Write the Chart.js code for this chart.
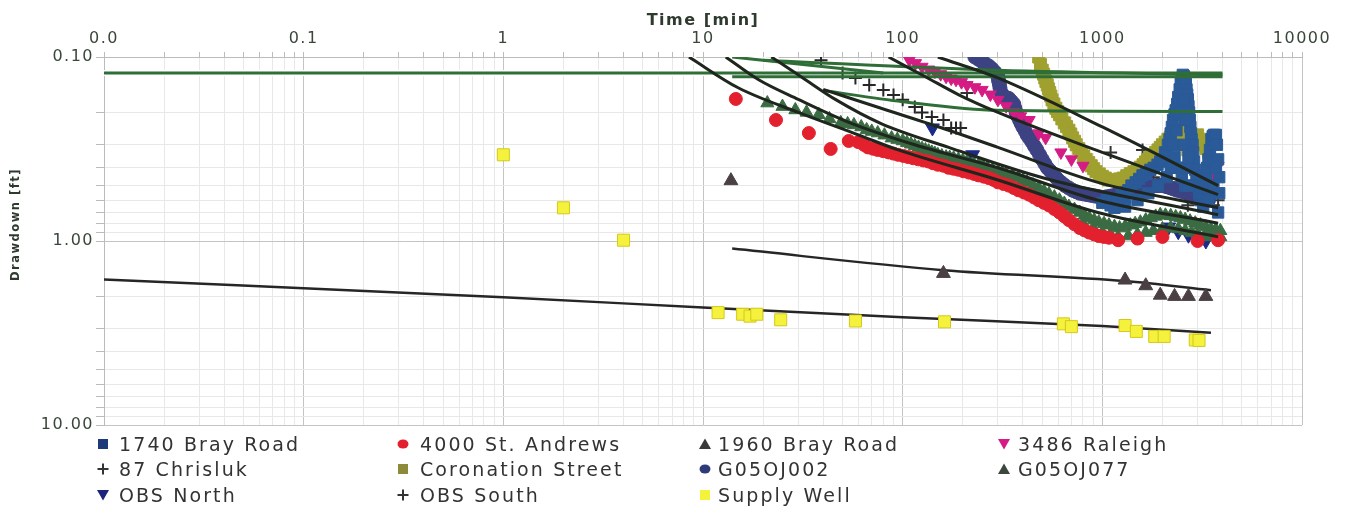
<!DOCTYPE html>
<html><head><meta charset="utf-8">
<script src="https://cdn.jsdelivr.net/npm/chart.js@4/dist/chart.umd.min.js"></script>
<style>
html,body{margin:0;padding:0;background:#fff;}
#wrap{position:relative;width:1346px;height:508px;overflow:hidden;}
#c{position:absolute;left:0;top:0;}
.lt{position:absolute;font-family:"DejaVu Sans",sans-serif;font-size:19px;letter-spacing:2.1px;color:#333;white-space:nowrap;line-height:22px;}
.lm{position:absolute;}
</style></head>
<body><div id="wrap"><canvas id="c" width="1346" height="508"></canvas><div id="legend"></div></div>
<script>
// ---- axis ticks ----
const xDecades = [0.01, 0.1, 1, 10, 100, 1000, 10000];
const xTickLabels = ['0.0', '0.1', '1', '10', '100', '1000', '10000'];
const yDecades = [0.1, 1, 10];
const yTickLabels = ['0.10', '1.00', '10.00'];

// ---- observed data [time min, drawdown ft] ----
const bray1740 = [[1000,0.62],[1050,0.6],[1100,0.64],[1150,0.66],[1200,0.6],[1250,0.56],[1300,0.58],[1350,0.53],[1400,0.5],[1470,0.48],[1530,0.46],[1590,0.44],[1660,0.43],[1740,0.41],[1810,0.4],[1890,0.385],[1950,0.37],[2000,0.36],[2060,0.33],[2130,0.3],[2170,0.28],[2200,0.26],[2230,0.24],[2260,0.22],[2300,0.205],[2330,0.195],[2370,0.18],[2400,0.165],[2440,0.15],[2470,0.137],[2500,0.13],[2530,0.125],[2560,0.127],[2590,0.13],[2620,0.14],[2640,0.15],[2660,0.16],[2680,0.17],[2700,0.185],[2720,0.2],[2740,0.22],[2760,0.24],[2780,0.26],[2800,0.28],[2830,0.3],[2850,0.33],[2880,0.37],[2920,0.41],[2960,0.45],[3000,0.5],[3050,0.55],[3100,0.6],[3150,0.56],[3200,0.52],[3250,0.48],[3300,0.44],[3350,0.4],[3400,0.36],[3460,0.32],[3520,0.28],[3570,0.27],[3620,0.265],[3700,0.265],[3750,0.3],[3800,0.36],[3850,0.45],[3850,0.55],[2250,0.3],[2300,0.35],[2350,0.25],[2400,0.4],[2450,0.2],[2500,0.45],[2550,0.17],[2550,0.3],[2600,0.5],[2600,0.22],[2650,0.4],[2700,0.35],[2700,0.5],[2200,0.4],[2100,0.45],[1900,0.5],[1700,0.55],[1500,0.6],[1300,0.65],[3200,0.65],[3400,0.6],[3600,0.5],[3700,0.4],[3800,0.7]];
const standrews4000 = [[14.6,0.169],[23.2,0.22],[33.9,0.259],[43.6,0.316],[53.7,0.286],[60,0.29],[64,0.3],[67,0.31],[71,0.315],[75,0.32],[80,0.325],[85,0.33],[90,0.335],[95,0.34],[101,0.345],[107,0.35],[113,0.355],[120,0.36],[127,0.365],[135,0.37],[142,0.378],[150,0.385],[160,0.39],[170,0.4],[180,0.405],[190,0.41],[202,0.418],[215,0.425],[228,0.432],[240,0.44],[255,0.447],[270,0.455],[285,0.465],[300,0.48],[320,0.49],[340,0.5],[360,0.515],[380,0.53],[405,0.545],[430,0.56],[455,0.58],[480,0.6],[510,0.62],[540,0.64],[575,0.67],[610,0.7],[645,0.735],[680,0.77],[725,0.81],[770,0.85],[815,0.875],[860,0.9],[910,0.92],[960,0.94],[1020,0.95],[1080,0.96],[1200,0.99],[1500,0.97],[2000,0.95],[3000,1.0],[3800,0.99]];
const bray1960 = [[13.8,0.47],[160,1.5],[1300,1.63],[1650,1.75],[1950,1.97],[2300,2.0],[2700,2.0],[3300,2.0]];
const raleigh3486 = [[108,0.104],[116,0.108],[125,0.113],[135,0.117],[145,0.12],[155,0.124],[165,0.128],[175,0.131],[185,0.133],[197,0.137],[210,0.142],[230,0.146],[250,0.151],[275,0.16],[300,0.171],[330,0.185],[360,0.2],[390,0.21],[430,0.22],[480,0.26],[520,0.275],[620,0.33],[700,0.36],[800,0.39],[3600,0.42],[3700,0.466],[3800,0.39]];
const chrisluk87 = [[39,0.104],[50,0.122],[58,0.13],[68,0.142],[80,0.151],[90,0.161],[100,0.171],[115,0.187],[125,0.2],[140,0.212],[160,0.22],[175,0.243],[185,0.243],[195,0.243]];
const coronation = [[480,0.1],[490,0.11],[500,0.118],[508,0.124],[515,0.13],[522,0.136],[530,0.142],[537,0.149],[545,0.156],[552,0.163],[560,0.171],[572,0.18],[585,0.19],[597,0.198],[610,0.206],[627,0.217],[645,0.228],[662,0.239],[680,0.25],[695,0.262],[710,0.275],[725,0.287],[740,0.3],[762,0.315],[785,0.33],[807,0.345],[830,0.36],[855,0.375],[880,0.39],[905,0.405],[930,0.42],[965,0.432],[1000,0.445],[1035,0.455],[1070,0.466],[1120,0.468],[1170,0.465],[1220,0.46],[1270,0.455],[1325,0.442],[1380,0.43],[1440,0.42],[1500,0.41],[1550,0.397],[1600,0.385],[1645,0.372],[1690,0.36],[1745,0.35],[1800,0.34],[1850,0.33],[1900,0.32],[1950,0.31],[2000,0.3],[2065,0.29],[2130,0.28],[2190,0.272],[2250,0.265],[2320,0.257],[2400,0.25],[2470,0.265],[2550,0.28],[2620,0.3],[2680,0.32],[2760,0.305],[2850,0.29],[2920,0.277],[3000,0.265],[3100,0.28],[3200,0.3],[3300,0.315],[3400,0.33]];
const g05oj002 = [[230,0.1],[240,0.103],[250,0.106],[260,0.109],[270,0.112],[280,0.116],[290,0.121],[300,0.128],[302,0.134],[305,0.14],[307,0.147],[310,0.155],[315,0.16],[320,0.165],[330,0.166],[340,0.168],[350,0.174],[360,0.18],[365,0.19],[370,0.2],[377,0.21],[385,0.22],[392,0.23],[400,0.24],[410,0.252],[420,0.265],[432,0.277],[445,0.29],[457,0.305],[470,0.32],[485,0.34],[500,0.36],[515,0.38],[530,0.4],[547,0.415],[565,0.43],[582,0.448],[600,0.466],[625,0.483],[650,0.5],[680,0.515],[710,0.53],[740,0.54],[770,0.55],[805,0.555],[840,0.56],[880,0.565],[920,0.57],[960,0.575],[1000,0.58],[1050,0.575],[1100,0.57],[1150,0.565],[1200,0.56],[1250,0.552],[1300,0.545],[1360,0.537],[1420,0.53],[1485,0.525],[1550,0.52],[1620,0.515],[1690,0.51],[1770,0.505],[1850,0.5],[1925,0.5],[2000,0.5],[2100,0.507],[2200,0.515],[2280,0.522],[2370,0.53],[2480,0.537],[2600,0.545],[2710,0.552],[2830,0.56],[2960,0.57],[3100,0.58],[3250,0.59],[3400,0.6]];
const g05oj077 = [[21,0.178],[25,0.186],[29,0.194],[33,0.2],[38,0.206],[43,0.217],[49,0.228],[53,0.231],[57,0.234],[62,0.24],[66,0.249],[70,0.254],[75,0.259],[81,0.266],[88,0.276],[94,0.281],[100,0.286],[105,0.292],[110,0.298],[115,0.304],[120,0.31],[125,0.315],[130,0.32],[135,0.325],[140,0.33],[145,0.335],[150,0.34],[157,0.345],[165,0.35],[172,0.352],[180,0.355],[190,0.36],[200,0.365],[210,0.37],[225,0.377],[240,0.385],[252,0.392],[265,0.4],[282,0.41],[300,0.42],[315,0.427],[330,0.435],[355,0.445],[380,0.455],[400,0.467],[420,0.48],[450,0.497],[480,0.515],[510,0.535],[540,0.555],[575,0.577],[610,0.6],[645,0.625],[680,0.65],[725,0.675],[770,0.7],[815,0.725],[860,0.75],[910,0.77],[960,0.79],[1020,0.805],[1080,0.82],[1150,0.835],[1220,0.85],[1300,0.835],[1380,0.82],[1460,0.805],[1550,0.79],[1650,0.77],[1750,0.75],[1850,0.735],[1950,0.72],[2070,0.725],[2200,0.73],[2330,0.74],[2460,0.75],[2600,0.765],[2750,0.78],[2920,0.8],[3100,0.82],[3300,0.84],[3500,0.86],[3700,0.87],[3900,0.88],[800,0.8],[900,0.85],[1000,0.9],[1100,0.93],[1200,0.95],[1350,0.94],[1500,0.92],[1650,0.9],[1800,0.88],[2000,0.86],[2200,0.85],[2400,0.86],[2600,0.88],[2800,0.9],[3000,0.92],[3250,0.94],[3500,0.95],[3700,0.95],[3900,0.95]];
const obsNorth = [[141,0.243],[224,0.34],[2150,0.84],[2400,0.89],[2700,0.93],[3300,1.0]];
const obsSouth = [[210,0.157],[1100,0.33],[1590,0.32],[1250,0.5],[1400,0.48],[1600,0.46],[1800,0.45],[2000,0.46],[2200,0.48],[2500,0.5],[2680,0.64],[2800,0.52],[3100,0.55],[3500,0.57],[3600,0.64],[3800,0.6]];
const supplyWell = [[1,0.34],[2,0.66],[4,0.99],[11.9,2.45],[15.8,2.5],[17.2,2.56],[18.6,2.5],[24.5,2.68],[58,2.72],[162,2.75],[638,2.82],[700,2.92],[1300,2.88],[1480,3.1],[1830,3.3],[2040,3.3],[2920,3.45],[3050,3.47]];

// ---- fitted curves [time min, drawdown ft] ----
const fitSupply = [[0.01,1.62],[1,2.02],[10,2.3],[100,2.6],[1000,2.9],[3500,3.15]];
const fit1960 = [[14,1.1],[160,1.44],[1300,1.65],[3500,1.85]];
const fitB1 = [[8.5,0.1],[15,0.147],[30,0.2],[60,0.265],[95,0.32],[300,0.466],[950,0.7],[3800,0.95]];
const fitB2 = [[13,0.1],[19,0.133],[30,0.17],[53,0.225],[115,0.3],[300,0.4],[950,0.6],[3800,0.8]];
const fitB3 = [[22,0.1],[31,0.128],[46,0.17],[78,0.23],[170,0.31],[530,0.46],[3800,0.72]];
const fitB4 = [[40,0.15],[78,0.19],[170,0.25],[300,0.31],[950,0.48],[3800,0.66]];
const fitB5 = [[85,0.1],[130,0.128],[190,0.16],[300,0.2],[1000,0.33],[3800,0.56]];
const fitB6 = [[150,0.1],[300,0.13],[1000,0.24],[3800,0.5]];
const fitG1 = [[0.01,0.122],[4000,0.122]];
const fitG2 = [[14,0.128],[4000,0.128]];
const fitG3 = [[20,0.104],[300,0.118],[4000,0.125]];
const fitG4 = [[40,0.152],[100,0.175],[300,0.195],[4000,0.198]];
const fitG5 = [[14,0.1],[80,0.122]];

// ---- build ----
const pts = a => a.map(p => ({x: p[0], y: p[1]}));
const series = [
  {label:'1740 Bray Road', data:bray1740, style:'rect', color:'#2a5a98', r:8},
  {label:'4000 St. Andrews', data:standrews4000, style:'circle', color:'#e3202d', r:6.5},
  {label:'1960 Bray Road', data:bray1960, style:'triangle', color:'#4a4043', r:8},
  {label:'3486 Raleigh', data:raleigh3486, style:'triangle', rot:180, color:'#d41c84', r:7},
  {label:'87 Chrisluk', data:chrisluk87, style:'cross', color:'#262626', r:6.5},
  {label:'Coronation Street', data:coronation, style:'rect', color:'#a0a030', r:8.5},
  {label:'G05OJ002', data:g05oj002, style:'circle', color:'#3d4283', r:7},
  {label:'G05OJ077', data:g05oj077, style:'triangle', color:'#3b6b43', r:7.5},
  {label:'OBS North', data:obsNorth, style:'triangle', rot:180, color:'#1c2a8a', r:8},
  {label:'OBS South', data:obsSouth, style:'cross', color:'#333333', r:6.5},
  {label:'Supply Well', data:supplyWell, style:'rect', color:'#f4f23c', border:'#d6c81a', r:8.5}
];
const legendIcon = {
  '1740 Bray Road':'#1f3a7a','4000 St. Andrews':'#e3202d','1960 Bray Road':'#3a3a3a','3486 Raleigh':'#d41c84',
  '87 Chrisluk':'#333','Coronation Street':'#8d8a3a','G05OJ002':'#2f3a78','G05OJ077':'#3d463d',
  'OBS North':'#1c237a','OBS South':'#333','Supply Well':'#f4f23c'
};

const datasets = [];
series.forEach(s => datasets.push({
  label: s.label, data: pts(s.data), showLine: false,
  pointStyle: s.style, pointRotation: s.rot || 0, pointRadius: s.r, pointHoverRadius: s.r,
  backgroundColor: s.color, borderColor: s.border || s.color, pointBorderWidth: s.style === 'cross' ? 2 : 1,
  order: 10
}));
function lineDs(arr, color, width, order) {
  return {label: '', data: pts(arr), showLine: true, borderColor: color, backgroundColor: color,
    borderWidth: width, pointRadius: 0, pointHoverRadius: 0, cubicInterpolationMode: 'monotone',
    fill: false, order: order};
}
datasets.push(lineDs(fitSupply, '#262626', 2.5, 20));
datasets.push(lineDs(fit1960, '#262626', 2.5, 20));
const blackFits = [fitB1, fitB2, fitB3, fitB4, fitB5, fitB6];
const greenFits = [fitG1, fitG2, fitG3, fitG4, fitG5];
greenFits.forEach(f => { datasets.push(lineDs(f, '#ffffff', 6, 13)); datasets.push(lineDs(f, '#2f6e37', 3, 3)); });
blackFits.forEach(f => { datasets.push(lineDs(f, '#ffffff', 7, 12)); datasets.push(lineDs(f, '#1e261e', 3, 1)); });

function tickList(decades) {
  const out = [];
  decades.forEach((d, i) => {
    if (i === decades.length - 1) { out.push(d); return; }
    for (let k = 1; k < 10; k++) out.push(+(d * k).toPrecision(6));
  });
  return out;
}
const idxOf = (decades, v) => decades.findIndex(d => Math.abs(v / d - 1) < 1e-6);
const gridColor = decades => ctx => (ctx.tick && idxOf(decades, ctx.tick.value) >= 0) ? '#c4c4c4' : '#e8e8e8';

const spacing = {id: 'spacing', beforeDraw(chart) { chart.ctx.letterSpacing = '1.5px'; }};

new Chart(document.getElementById('c'), {
  type: 'scatter',
  data: {datasets},
  plugins: [spacing],
  options: {
    responsive: false, animation: false, devicePixelRatio: 1,
    layout: {padding: {left: 0, top: 0, right: 44, bottom: 83}},
    plugins: {legend: {display: false}, tooltip: {enabled: false}},
    scales: {
      x: {
        type: 'logarithmic', position: 'top', min: 0.01, max: 10000,
        afterBuildTicks: s => { s.ticks = tickList(xDecades).map(v => ({value: v})); },
        afterFit: s => { s.height = 57; },
        ticks: {autoSkip: false, maxRotation: 0, padding: 4, color: '#3a463a',
          font: {family: 'DejaVu Sans', size: 16},
          callback: v => { const i = idxOf(xDecades, v); return i >= 0 ? xTickLabels[i] : ''; }},
        grid: {color: gridColor(xDecades), tickColor: '#bbbbbb', tickLength: 5, lineWidth: 1},
        border: {color: '#bbbbbb'},
        title: {display: true, text: 'Time [min]', color: '#2f3a2f',
          font: {family: 'DejaVu Sans', size: 16, weight: 'bold'}, padding: {top: 11, bottom: 0}}
      },
      y: {
        type: 'logarithmic', position: 'left', reverse: true, min: 0.1, max: 10,
        afterBuildTicks: s => { s.ticks = tickList(yDecades).map(v => ({value: v})); },
        afterFit: s => { s.width = 104; },
        ticks: {autoSkip: false, padding: 2, color: '#3a463a',
          font: {family: 'DejaVu Sans', size: 16},
          callback: v => { const i = idxOf(yDecades, v); return i >= 0 ? yTickLabels[i] : ''; }},
        grid: {color: gridColor(yDecades), tickColor: '#bbbbbb', tickLength: 8, lineWidth: 1},
        border: {color: '#bbbbbb'},
        title: {display: true, text: '\u00a0\u00a0\u00a0\u00a0\u00a0\u00a0Drawdown [ft]', color: '#2f3a2f',
          font: {family: 'DejaVu Sans', size: 11.5, weight: 'bold'}, padding: {top: 9, bottom: 0}}
      }
    }
  }
});

// ---- legend (HTML, 4 columns) ----
const legCols = [103, 403, 705, 1004];
const legText = [119, 420, 718, 1018];
const legRows = [444, 469, 495];
const shapes = {
  rect: c => `<rect x="1" y="1" width="10" height="10" fill="${c}"/>`,
  circle: c => `<ellipse cx="6" cy="6" rx="5.5" ry="4.5" fill="${c}"/>`,
  triangle: c => `<polygon points="6,0.5 12,11 0,11" fill="${c}"/>`,
  down: c => `<polygon points="0,1 12,1 6,11.5" fill="${c}"/>`,
  cross: c => `<path d="M6 0.5V11.5M0.5 6H11.5" stroke="${c}" stroke-width="2"/>`
};
const leg = document.getElementById('legend');
let html = '';
series.forEach((s, i) => {
  const col = i % 4, row = Math.floor(i / 4);
  const key = s.rot === 180 ? 'down' : s.style;
  const c = legendIcon[s.label];
  html += `<svg class="lm" width="12" height="12" style="left:${legCols[col]-6}px;top:${legRows[row]-6}px">${shapes[key](c)}</svg>`;
  html += `<div class="lt" style="left:${legText[col]}px;top:${legRows[row]-11}px">${s.label}</div>`;
});
leg.innerHTML = html;
</script>
</body></html>
